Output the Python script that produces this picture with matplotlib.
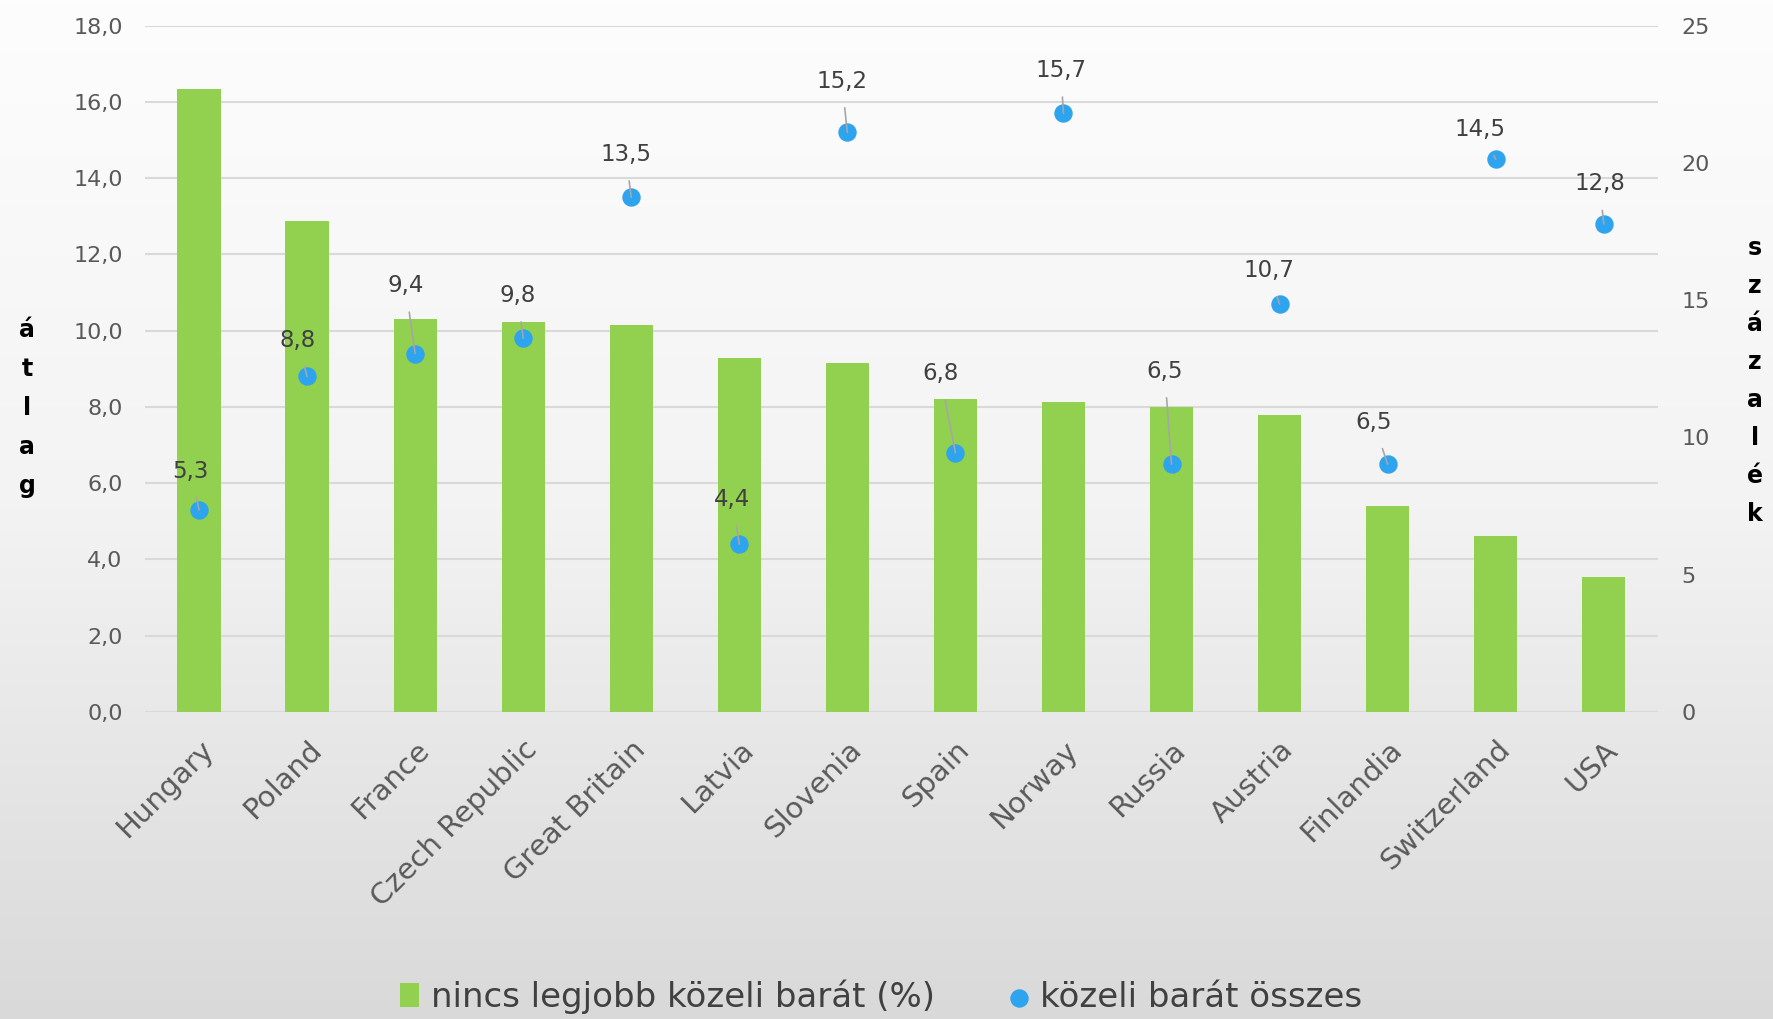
import numpy as np
import matplotlib
matplotlib.use("Agg")
import matplotlib.pyplot as plt
from matplotlib.colors import LinearSegmentedColormap

plt.rcParams['font.family'] = ['DejaVu Sans']

# data
countries = ["Hungary", "Poland", "France", "Czech Republic", "Great Britain", "Latvia",
             "Slovenia", "Spain", "Norway", "Russia", "Austria", "Finlandia",
             "Switzerland", "USA"]
no_best_friend_pct = [22.7, 17.9, 14.3, 14.2, 14.1, 12.9, 12.7, 11.4, 11.3, 11.1, 10.8, 7.5, 6.4, 4.9]
close_friends_total = [5.3, 8.8, 9.4, 9.8, 13.5, 4.4, 15.2, 6.8, 15.7, 6.5, 10.7, 6.5, 14.5, 12.8]
left_ticks = [0, 2, 4, 6, 8, 10, 12, 14, 16, 18]
right_ticks = [0, 5, 10, 15, 20, 25]

# label offsets (points) for the data labels, like the dragged Excel labels
label_dx = [-6, -7, -7, -4, -4, -5, -4, -11, -2, -5, -8, -10, -11, -3]
label_dy = [28, 26, 49, 31, 31, 32, 37, 57, 31, 67, 24, 30, 21, 29]

GREEN = "#92D050"
BLUE = "#2EA3EE"

fig = plt.figure(figsize=(17.73, 10.19), dpi=100)

# background gradient
bg = fig.add_axes([0, 0, 1, 1], zorder=-10)
grad = np.linspace(0, 1, 256).reshape(-1, 1)
cmap = LinearSegmentedColormap.from_list("bg", ["#fdfdfd", "#f3f3f3", "#d9d9d9"])
bg.imshow(grad, aspect="auto", cmap=cmap, extent=[0, 1, 0, 1], origin="upper")
bg.axis("off")

ax = fig.add_axes([0.0818, 0.3013, 0.8532, 0.6735])
ax.set_facecolor("none")
ax2 = ax.twinx()
ax2.set_facecolor("none")

x = np.arange(len(countries))

# bars on the right (percent) axis
ax2.bar(x, no_best_friend_pct, width=0.4, color=GREEN, zorder=2,
        label="nincs legjobb közeli barát (%)")
ax2.set_ylim(0, 25)
ax2.set_yticks(right_ticks)
ax2.set_yticklabels([str(t) for t in right_ticks])

# dots on the left axis
ax.set_ylim(0, 18)
ax.set_yticks(left_ticks)
ax.set_yticklabels([f"{t:.1f}".replace(".", ",") for t in left_ticks])
ax.grid(axis="y", color="#d9d9d9", lw=1.5)
ax.set_axisbelow(True)
ax.set_xlim(-0.5, len(countries) - 0.5)

# dots above the bars: overlay axis sharing the left scale
ax3 = fig.add_axes(ax.get_position(), sharex=ax)
ax3.set_facecolor("none")
ax3.set_ylim(0, 18)
ax3.axis("off")
ax3.scatter(x, close_friends_total, s=150, color=BLUE, zorder=3, label="közeli barát összes")
for i, v in enumerate(close_friends_total):
    ax3.annotate(f"{v:.1f}".replace(".", ","), (x[i], v),
                 xytext=(label_dx[i], label_dy[i]), textcoords="offset points",
                 ha="center", va="center", fontsize=16.5, color="#404040",
                 arrowprops=dict(arrowstyle="-", color="#a6a6a6", lw=1.2,
                                 shrinkA=9, shrinkB=0))

for a in (ax, ax2):
    for s in a.spines.values():
        s.set_visible(False)
    a.tick_params(length=0, labelsize=16, labelcolor="#595959")
ax.tick_params(axis="y", pad=16)
ax2.tick_params(axis="y", pad=17)

ax.set_xticks(x)
ax.set_xticklabels(countries, rotation=45, ha="right", rotation_mode="anchor",
                   fontsize=21, color="#595959")
ax.tick_params(axis="x", pad=17)

# stacked axis titles
for k, ch in enumerate("átlag"):
    fig.text(27 / 1773, 1 - (330 + k * 39) / 1019, ch, fontsize=17, fontweight="bold",
             ha="center", va="center", color="black")
for k, ch in enumerate("százalék"):
    fig.text(1755 / 1773, 1 - (248 + k * 38) / 1019, ch, fontsize=17, fontweight="bold",
             ha="center", va="center", color="black")

# legend
h1, l1 = ax2.get_legend_handles_labels()
h2, l2 = ax3.get_legend_handles_labels()
fig.legend(h1 + h2, l1 + l2, loc="center", bbox_to_anchor=(0.497, 0.022), ncol=2,
           frameon=False, fontsize=24.5, labelcolor="#404040", handlelength=0.55,
           handletextpad=0.35, columnspacing=2.2)

fig.savefig("out.png", dpi=100)
